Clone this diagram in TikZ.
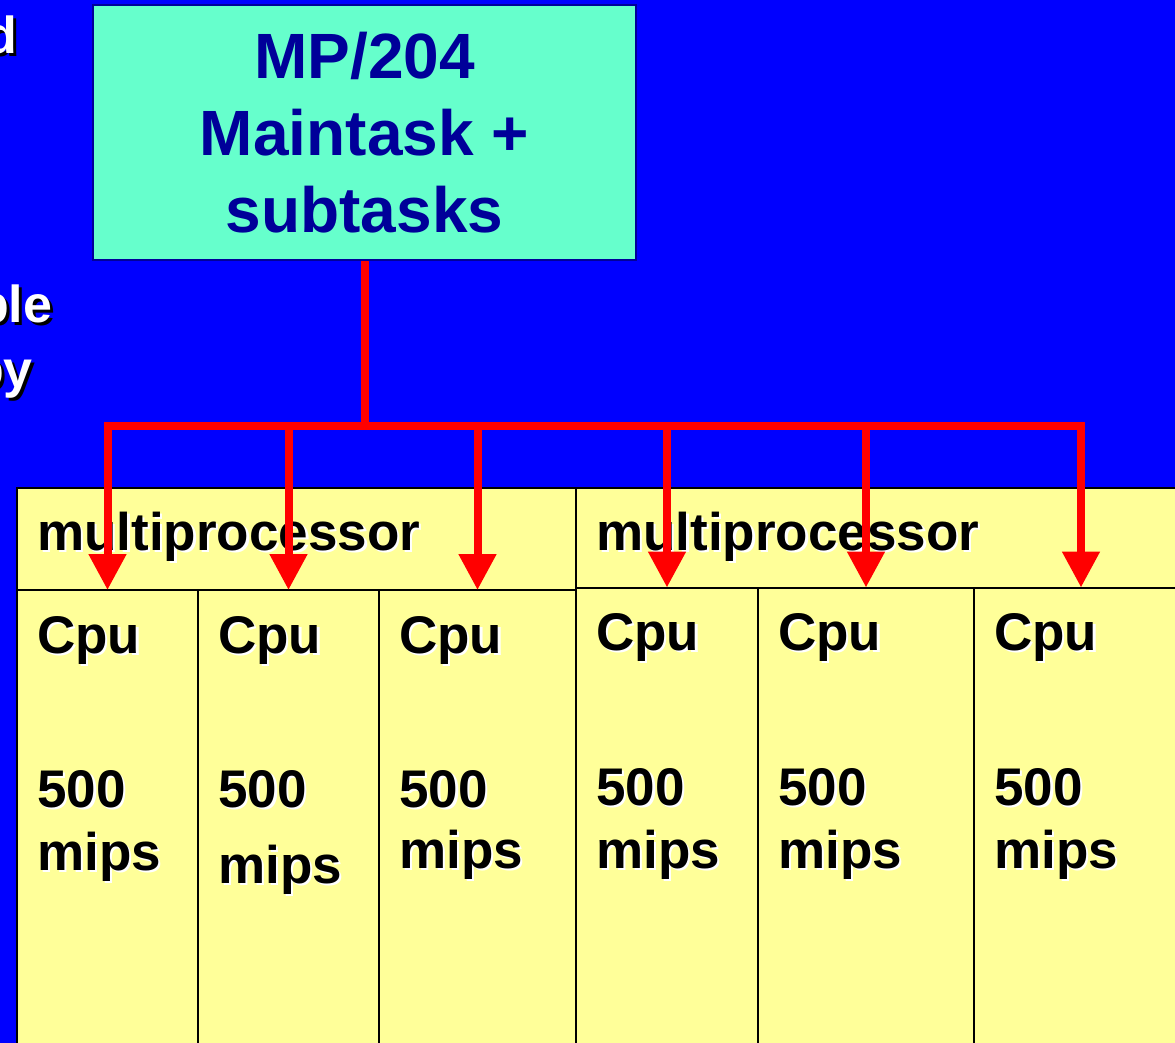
\documentclass[tikz,border=0pt]{standalone}
\usepackage{fontspec}
\setmainfont{Liberation Sans}
\usetikzlibrary{arrows.meta}
\definecolor{bgblue}{HTML}{0000FF}
\definecolor{aqua}{HTML}{66FFCC}
\definecolor{navy}{HTML}{000099}
\definecolor{pale}{HTML}{FFFF99}
\newcommand{\wsh}[1]{\makebox[0pt][l]{\kern2.5pt\raisebox{-2.5pt}{\color{white}#1}}#1}
\newcommand{\bsh}[1]{\makebox[0pt][l]{\kern3pt\raisebox{-3pt}{\color{black}#1}}#1}
\begin{document}
\begin{tikzpicture}[x=1pt,y=-1pt,
  cell/.style={draw=black, line width=2pt, fill=pale, inner sep=0pt, outer sep=0pt},
  lbl/.style={anchor=base west, inner sep=0pt, font=\fontsize{53}{60}\selectfont\bfseries, text=black},
  side/.style={anchor=base east, inner sep=0pt, font=\fontsize{52}{60}\selectfont\bfseries, text=white},
  feed/.style={draw=red, line width=8pt, line join=miter, -{Triangle[width=36pt,length=36pt]}},
]
\fill[bgblue] (0,0) rectangle (1175,1043);
\useasboundingbox (0,0) rectangle (1175,1043);
\clip (0,0) rectangle (1175,1043);

\node[side] (s1) at (17,54) {\bsh{d}};
\node[side] (s2) at (52.5,322) {\bsh{ble}};
\node[side] (s3) at (33,387) {\bsh{by}};

\node[draw=navy, line width=2pt, fill=aqua, minimum width=543pt, minimum height=255pt,
  inner sep=0pt, align=center, text=navy, font=\fontsize{64}{77}\selectfont\bfseries]
  (top) at (364.5,132.5) {MP/204\\Maintask +\\subtasks};

\node[cell, minimum width=559pt, minimum height=102pt] (mp1) at (296.5,539) {};
\node[cell, minimum width=612pt, minimum height=100pt] (mp2) at (882,537.5) {};

\node[cell, minimum width=181pt, minimum height=470pt] (cpu1) at (107.5,825) {};
\node[cell, minimum width=181pt, minimum height=470pt] (cpu2) at (288.5,825) {};
\node[cell, minimum width=197pt, minimum height=470pt] (cpu3) at (477.5,825) {};
\node[cell, minimum width=182pt, minimum height=472.5pt] (cpu4) at (667,823.75) {};
\node[cell, minimum width=216pt, minimum height=472.5pt] (cpu5) at (866,823.75) {};
\node[cell, minimum width=214pt, minimum height=472.5pt] (cpu6) at (1081,823.75) {};

\node[lbl] (mp1t) at (37,550) {\wsh{multiprocessor}};
\node[lbl] (mp2t) at (596,550) {\wsh{multiprocessor}};

\node[lbl] (c1a) at (37,653) {\wsh{Cpu}};
\node[lbl] (c2a) at (218,653) {\wsh{Cpu}};
\node[lbl] (c3a) at (399,653) {\wsh{Cpu}};
\node[lbl] (c4a) at (596,650) {\wsh{Cpu}};
\node[lbl] (c5a) at (778,650) {\wsh{Cpu}};
\node[lbl] (c6a) at (994,650) {\wsh{Cpu}};

\node[lbl] (c1b) at (37,807) {\wsh{500}};
\node[lbl] (c2b) at (218,807) {\wsh{500}};
\node[lbl] (c3b) at (399,807) {\wsh{500}};
\node[lbl] (c4b) at (596,805) {\wsh{500}};
\node[lbl] (c5b) at (778,805) {\wsh{500}};
\node[lbl] (c6b) at (994,805) {\wsh{500}};

\node[lbl] (c1c) at (37,870) {\wsh{mips}};
\node[lbl] (c2c) at (218,883) {\wsh{mips}};
\node[lbl] (c3c) at (399,868) {\wsh{mips}};
\node[lbl] (c4c) at (596,868) {\wsh{mips}};
\node[lbl] (c5c) at (778,868) {\wsh{mips}};
\node[lbl] (c6c) at (994,868) {\wsh{mips}};

\coordinate (j) at (364.5,426);
\draw[draw=red, line width=8pt] (top.south) -- (j);
\foreach \c in {cpu1,cpu2,cpu3,cpu4,cpu5,cpu6}
  \draw[feed] (j) -| (\c.north);
\end{tikzpicture}
\end{document}
